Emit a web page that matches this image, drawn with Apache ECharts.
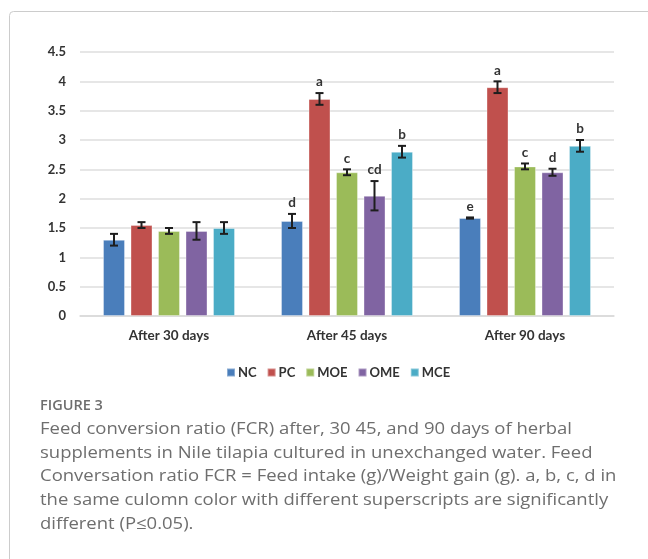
<!DOCTYPE html>
<html>
<head>
<meta charset="utf-8">
<script src="https://cdn.jsdelivr.net/npm/echarts@6/dist/echarts.min.js"></script>
<style>
html,body{margin:0;padding:0;background:#fff;}
#chart{width:648px;height:559px;}
</style>
</head>
<body>
<div id="chart"></div>
<script>
// ---- data ----
var categories = ['After 30 days', 'After 45 days', 'After 90 days'];
var seriesNames = ['NC', 'PC', 'MOE', 'OME', 'MCE'];
var NC  = [1.30, 1.62, 1.67];
var PC  = [1.55, 3.70, 3.90];
var MOE = [1.45, 2.45, 2.55];
var OME = [1.45, 2.05, 2.45];
var MCE = [1.50, 2.80, 2.90];
var NC_err  = [0.10, 0.12, 0.01];
var PC_err  = [0.05, 0.10, 0.10];
var MOE_err = [0.05, 0.05, 0.05];
var OME_err = [0.15, 0.25, 0.06];
var MCE_err = [0.10, 0.10, 0.10];
var NC_sig  = ['', 'd', 'e'];
var PC_sig  = ['', 'a', 'a'];
var MOE_sig = ['', 'c', 'c'];
var OME_sig = ['', 'cd', 'd'];
var MCE_sig = ['', 'b', 'b'];
var yTicks = [0, 0.5, 1, 1.5, 2, 2.5, 3, 3.5, 4, 4.5];

var values = [NC, PC, MOE, OME, MCE];
var errs = [NC_err, PC_err, MOE_err, OME_err, MCE_err];
var sigs = [NC_sig, PC_sig, MOE_sig, OME_sig, MCE_sig];
var colors = ['#4a7ebb', '#c0504d', '#9bbb59', '#8064a2', '#4bacc6'];

var BAR_W = 22, BAR_GAP = 5.5;
var font = 'Lato, "Open Sans", sans-serif';

var chart = echarts.init(document.getElementById('chart'), null, {renderer: 'canvas'});

var series = [];
seriesNames.forEach(function (name, i) {
  series.push({
    name: name,
    type: 'bar',
    data: values[i],
    barWidth: BAR_W,
    barGap: (BAR_GAP / BAR_W * 100) + '%',
    itemStyle: {color: colors[i], borderColor: 'rgba(255,255,255,0.35)', borderWidth: 1},
    emphasis: {disabled: true},
    z: 2
  });
});
seriesNames.forEach(function (name, i) {
  var offset = (i - 2) * (BAR_W + BAR_GAP);
  var data = values[i].map(function (v, k) { return [k, v, errs[i][k], sigs[i][k]]; });
  series.push({
    type: 'custom',
    name: name + '_err',
    data: data,
    z: 5,
    silent: true,
    renderItem: function (params, api) {
      var k = api.value(0), v = api.value(1), e = api.value(2);
      var sig = data[params.dataIndex][3];
      var top = api.coord([k, v + e]);
      var bot = api.coord([k, v - e]);
      var x = top[0] + offset;
      var cap = 4;
      var st = {stroke: '#1e1e1e', lineWidth: 2};
      var children = [
        {type: 'line', shape: {x1: x, y1: top[1], x2: x, y2: bot[1]}, style: st},
        {type: 'line', shape: {x1: x - cap, y1: top[1], x2: x + cap, y2: top[1]}, style: st},
        {type: 'line', shape: {x1: x - cap, y1: bot[1], x2: x + cap, y2: bot[1]}, style: st}
      ];
      if (sig) {
        children.push({type: 'text', style: {text: sig, x: x, y: top[1] - 4, textAlign: 'center', textVerticalAlign: 'bottom',
          font: 'bold 13.5px ' + font, fill: '#333'}});
      }
      return {type: 'group', children: children};
    }
  });
});

var caption = [
  'Feed conversion ratio (FCR) after, 30 45, and 90 days of herbal',
  'supplements in Nile tilapia cultured in unexchanged water. Feed',
  'Conversation ratio FCR = Feed intake (g)/Weight gain (g). a, b, c, d in',
  'the same culomn color with different superscripts are significantly',
  'different (P\u22640.05).'
];
var capFont = '16.5px "Open Sans", sans-serif';
var mctx = document.createElement('canvas').getContext('2d');
mctx.font = capFont;
var capScale = 532 / mctx.measureText(caption[0]).width;

var graphics = [
  {type: 'rect', shape: {x: 9.5, y: 11.5, width: 700, height: 600, r: 4}, style: {fill: 'none', stroke: '#cccccc', lineWidth: 1}, silent: true},
  {type: 'text', x: 40, y: 406, style: {text: 'FIGURE 3', x: 0, y: 0, textVerticalAlign: 'middle', font: '600 14.5px "Open Sans", sans-serif', fill: '#6e6e6e'}}
];
caption.forEach(function (line, i) {
  graphics.push({type: 'text', x: 40, y: 429 + i * 23.8, scaleX: capScale,
    style: {text: line, x: 0, y: 0, textVerticalAlign: 'middle', font: capFont, fill: '#6e6e6e'}});
});

chart.setOption({
  animation: false,
  backgroundColor: '#fff',
  grid: {left: 80, right: 34, top: 52, bottom: 243, containLabel: false},
  legend: {
    data: seriesNames,
    left: 221, top: 361,
    icon: 'rect', itemWidth: 8, itemHeight: 8, itemGap: 10,
    textStyle: {fontFamily: font, fontWeight: 'bold', fontSize: 13, color: '#333', padding: [0, 0, 0, -2]}
  },
  xAxis: {
    type: 'category', data: categories,
    axisTick: {show: false},
    axisLine: {lineStyle: {color: '#d9d9d9', width: 1.5}},
    axisLabel: {fontFamily: font, fontWeight: 'bold', fontSize: 13.5, color: '#333', margin: 13}
  },
  yAxis: {
    type: 'value', min: 0, max: 4.5, interval: 0.5,
    axisLine: {show: false}, axisTick: {show: false},
    splitLine: {lineStyle: {color: '#dedede', width: 1.5}},
    axisLabel: {fontFamily: font, fontWeight: 'bold', fontSize: 13, color: '#333', margin: 14}
  },
  series: series,
  graphic: graphics
});
</script>
</body>
</html>
